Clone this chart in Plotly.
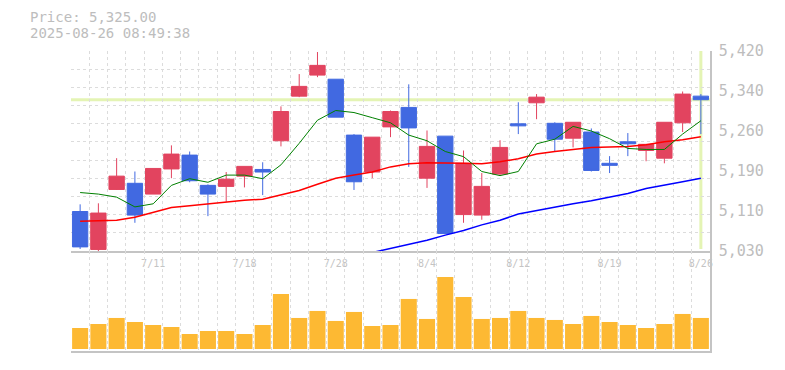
import plotly.graph_objects as go

# ---------------- data ----------------
dates = ["7/7", "7/8", "7/9", "7/10", "7/11", "7/14", "7/15", "7/16", "7/17", "7/18",
         "7/22", "7/23", "7/24", "7/25", "7/28", "7/29", "7/30", "7/31", "8/1", "8/4",
         "8/5", "8/6", "8/7", "8/8", "8/12", "8/13", "8/14", "8/15", "8/18", "8/19",
         "8/20", "8/21", "8/22", "8/25", "8/26"]
opens = [5107, 5033, 5150, 5162, 5141, 5190, 5217, 5158, 5156, 5176,
         5189, 5245, 5332, 5373, 5365, 5256, 5184, 5272, 5310, 5172,
         5254, 5101, 5100, 5180, 5278, 5319, 5279, 5250, 5262, 5201,
         5243, 5226, 5211, 5280, 5332]
highs = [5121, 5123, 5211, 5185, 5191, 5236, 5224, 5160, 5184, 5195,
         5203, 5312, 5375, 5418, 5365, 5258, 5252, 5304, 5355, 5265,
         5254, 5226, 5182, 5246, 5320, 5336, 5281, 5281, 5269, 5215,
         5260, 5238, 5281, 5341, 5336]
lows = [5034, 5030, 5149, 5085, 5141, 5172, 5164, 5098, 5126, 5154,
        5139, 5234, 5330, 5369, 5291, 5149, 5172, 5252, 5194, 5153,
        5064, 5085, 5091, 5179, 5258, 5287, 5224, 5232, 5185, 5182,
        5215, 5205, 5201, 5262, 5258]
closes = [5038, 5104, 5176, 5100, 5191, 5219, 5167, 5141, 5170, 5195,
          5184, 5302, 5351, 5392, 5291, 5165, 5252, 5302, 5270, 5234,
          5064, 5201, 5156, 5232, 5274, 5330, 5248, 5281, 5187, 5197,
          5239, 5238, 5281, 5336, 5325]
volumes = [210000, 250000, 310000, 270000, 240000, 220000, 150000, 180000, 180000, 150000,
           240000, 550000, 310000, 380000, 280000, 370000, 230000, 240000, 500000, 300000,
           720000, 520000, 300000, 310000, 380000, 310000, 290000, 250000, 330000, 270000,
           240000, 210000, 250000, 350000, 310000]
ma_short = [5144, 5141, 5135, 5116, 5122, 5158, 5171, 5164, 5178, 5178,
            5171, 5198, 5240, 5285, 5304, 5300, 5290, 5280, 5256, 5245,
            5224, 5214, 5185, 5177, 5185, 5239, 5248, 5273, 5264, 5249,
            5230, 5228, 5228, 5258, 5284]
ma_mid = [5088, 5089, 5090, 5096, 5105, 5115, 5118, 5122, 5126, 5129,
          5131, 5139, 5148, 5160, 5172, 5178, 5184, 5194, 5200, 5202,
          5202, 5201, 5200, 5204, 5210, 5219, 5224, 5228, 5232, 5233,
          5234, 5237, 5243, 5247, 5253]
ma_long = [None] * 16 + [5027, 5035, 5043, 5051, 5061, 5070, 5081, 5090, 5102, 5109,
                         5116, 5122, 5128, 5135, 5142, 5152, 5158, 5165, 5172]
tick_dates = ["7/11", "7/18", "7/28", "8/4", "8/12", "8/19", "8/26"]
y_labels = ["5,030", "5,110", "5,190", "5,260", "5,340", "5,420"]
y_min, y_max = 5030, 5420
price = 5325.00
timestamp = "2025-08-26 08:49:38"

# ---------------- styling ----------------
FONT = "DejaVu Sans Mono"
UP = "#e2445f"
DOWN = "#4169e1"
GRID = "#dcdcdc"
AXIS = "#c4c4c4"
HILITE = "#e4f4b4"
VOL = "#fdb933"
TXT = "#bdbdbd"

x = list(range(len(dates)))
n = len(dates)
xr = [-0.5, n - 0.5]

fig = go.Figure()

# invisible helper on grid axis
fig.add_trace(go.Scatter(x=x, y=closes, xaxis="x", yaxis="y3", mode="lines",
                         line=dict(width=0), hoverinfo="skip", showlegend=False))

fig.add_trace(go.Scatter(x=x, y=ma_long, mode="lines", line=dict(color="blue", width=1.5),
                         showlegend=False, hoverinfo="skip"))
fig.add_trace(go.Scatter(x=x, y=ma_mid, mode="lines", line=dict(color="red", width=1.5),
                         showlegend=False, hoverinfo="skip"))
fig.add_trace(go.Scatter(x=x, y=ma_short, mode="lines", line=dict(color="green", width=1),
                         showlegend=False, hoverinfo="skip"))

fig.add_trace(go.Candlestick(
    x=x, open=opens, high=highs, low=lows, close=closes,
    increasing=dict(line=dict(color=UP, width=1), fillcolor=UP),
    decreasing=dict(line=dict(color=DOWN, width=1), fillcolor=DOWN),
    whiskerwidth=0, showlegend=False))

fig.add_trace(go.Bar(x=x, y=volumes, xaxis="x2", yaxis="y2", marker=dict(color=VOL, line=dict(width=0)),
                     width=0.88, showlegend=False))

minor_grid = dict(tick0=-0.5, dtick=1, showgrid=True, gridcolor=GRID, griddash="3px,3px",
                  gridwidth=1, ticks="")
grid_vals = [y_min + (y_max - y_min) * k / 11 for k in range(12)]
label_vals = [y_min + (y_max - y_min) * k / 5 for k in range(6)]
vmax = max(volumes)

fig.update_layout(
    width=785, height=370,
    margin=dict(l=71, r=75, t=51, b=19, autoexpand=False),
    paper_bgcolor="white", plot_bgcolor="white",
    font=dict(family=FONT, color=TXT),
    boxgap=0.16,
    boxgroupgap=0,
    bargap=0.12,
    showlegend=False,
    xaxis=dict(domain=[0, 1], anchor="y", range=xr, tickmode="array", autorange=False,
               tickvals=[dates.index(d) for d in tick_dates], ticktext=tick_dates,
               showgrid=False, minor=minor_grid, showline=True, linecolor=AXIS, linewidth=1.5,
               ticks="", zeroline=False, rangeslider=dict(visible=False),
               tickfont=dict(family=FONT, size=10, color="#c4c4c4"), ticklabelstandoff=2),
    yaxis=dict(domain=[1 / 3, 1], anchor="x", side="right", range=[y_min, y_max],
               tickmode="array", tickvals=label_vals, ticktext=y_labels, automargin=False,
               showgrid=False, showline=True, linecolor=AXIS, linewidth=1.5, zeroline=False,
               ticks="", tickfont=dict(family=FONT, size=15, color=TXT), ticklabelstandoff=4),
    yaxis3=dict(overlaying="y", anchor="x", side="right", range=[y_min, y_max],
                tickmode="array", tickvals=grid_vals, showgrid=True, gridcolor=GRID,
                griddash="3px,3px", gridwidth=1, showticklabels=False, showline=False,
                zeroline=False, ticks=""),
    xaxis2=dict(domain=[0, 1], anchor="y2", range=xr, autorange=False, showticklabels=False,
                showgrid=False, minor=minor_grid, showline=True, linecolor=AXIS, linewidth=1.5,
                ticks="", zeroline=False),
    yaxis2=dict(domain=[0, 1 / 3], anchor="x2", side="right",
                range=[-vmax * 0.028, vmax * 1.36], showgrid=False, showticklabels=False,
                showline=True, linecolor=AXIS, linewidth=1.5, zeroline=False, ticks=""),
    shapes=[
        dict(type="line", xref="x domain", x0=0, x1=1, yref="y", y0=price, y1=price,
             line=dict(color=HILITE, width=3), layer="below"),
        dict(type="line", xref="x", x0=x[-1], x1=x[-1], yref="y domain", y0=0.01, y1=1,
             line=dict(color=HILITE, width=3), layer="below"),
    ],
    annotations=[
        dict(text=f"Price: {price:,.2f}", xref="paper", yref="paper", x=-0.0673, y=1.113,
             xanchor="left", yanchor="middle", showarrow=False,
             font=dict(family=FONT, size=14, color=TXT)),
        dict(text=timestamp, xref="paper", yref="paper", x=-0.0673, y=1.06,
             xanchor="left", yanchor="middle", showarrow=False,
             font=dict(family=FONT, size=14, color=TXT)),
    ],
)

fig.write_html("out.html", config={"displayModeBar": False},
               post_script="document.body.style.margin='0px';")
